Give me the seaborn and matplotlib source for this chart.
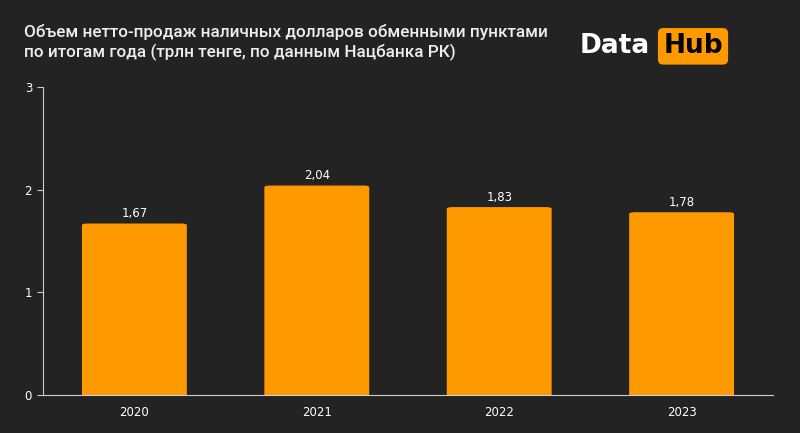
import matplotlib
matplotlib.use("Agg")
import matplotlib.pyplot as plt
import seaborn as sns
import pandas as pd
from matplotlib.patches import FancyBboxPatch

years = ["2020", "2021", "2022", "2023"]
values = [1.67, 2.04, 1.83, 1.78]
labels = ["1,67", "2,04", "1,83", "1,78"]
title = "Объем нетто-продаж наличных долларов обменными пунктами\nпо итогам года (трлн тенге, по данным Нацбанка РК)"

bg = "#232323"
orange = "#FF9900"
df = pd.DataFrame({"year": years, "value": values})

fig = plt.figure(figsize=(8, 4.33), dpi=100, facecolor=bg)
ax = fig.add_axes([0.054, 0.088, 0.912, 0.711], facecolor=bg)
sns.barplot(data=df, x="year", y="value", color=orange, width=0.575, ax=ax, saturation=1)

asp = 0.55
for p in list(ax.patches):
    x, y, w, h = p.get_x(), p.get_y(), p.get_width(), p.get_height()
    p.remove()
    r = 0.03
    fb = FancyBboxPatch((x + r, -0.2), w - 2 * r, h + 0.2 - r * asp,
                        boxstyle=f"round,pad={r},rounding_size={r}",
                        mutation_aspect=asp, facecolor=orange, edgecolor="none")
    ax.add_patch(fb)

for i, (v, t) in enumerate(zip(values, labels)):
    ax.text(i, v + 0.03, t, ha="center", va="bottom", color="white", fontsize=8.5)

ax.set_ylim(0, 3)
ax.set_xlim(-0.5, 3.5)
ax.set_yticks([0, 1, 2, 3])
ax.set_xlabel("")
ax.set_ylabel("")
for s in ["top", "right"]:
    ax.spines[s].set_visible(False)
for s in ["left", "bottom"]:
    ax.spines[s].set_color("#cccccc")
    ax.spines[s].set_linewidth(0.8)
    ax.spines[s].set_zorder(5)
ax.tick_params(colors="white", labelsize=8.5, length=0, pad=8)
ax.tick_params(axis="y", length=4, color="#cccccc", pad=4)

fig.text(0.03, 0.945, title, color="#eeeeee", fontsize=12.3, fontfamily="Roboto", fontweight="medium",
         va="top", ha="left", linespacing=1.3)
fig.text(0.725, 0.893, "Data", color="white", fontsize=19, fontweight="bold",
         va="center", ha="left")
fig.text(0.829, 0.893, "Hub", color="black", fontsize=19, fontweight="bold",
         va="center", ha="left",
         bbox=dict(boxstyle="round,pad=0.2,rounding_size=0.2", facecolor=orange, edgecolor="none"))

fig.savefig("out.png", dpi=100, facecolor=bg)
